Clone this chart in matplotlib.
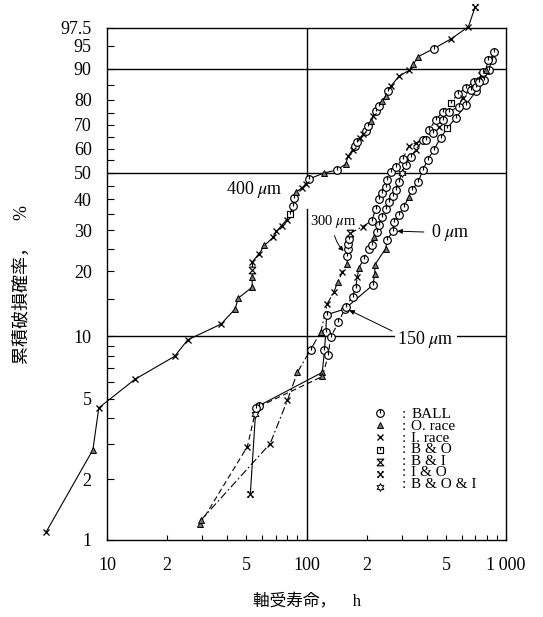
"""
Weibull 確率紙: 軸受寿命と累積破損確率
"""

import numpy as np
import matplotlib
matplotlib.use("Agg")
import matplotlib.pyplot as plt
from matplotlib.path import Path
from matplotlib.ticker import FixedLocator, FixedFormatter, NullFormatter

# ---- data (life h, cumulative failure %, failure mode code per point) ----
# codes: o=BALL, t=O.race, x=I.race, s=B&O, h=B&I, k=I&O, *=B&O&I
s400_h = [4.97, 8.5, 9.1, 13.8, 21.8, 25.4, 37.3, 43.8, 45.6, 53.4,
          53.4, 53.6, 53.6, 57.9, 61.5, 68, 70.7, 75, 79.6, 82.9,
          85.6, 87, 89, 95.3, 99.2, 103, 122, 142, 157, 162,
          170, 175, 180, 186, 192, 198, 204, 210, 216, 222,
          230, 238, 249, 256, 264, 291, 328, 342, 363, 434,
          530, 647, 701]
s400_F = [1.1, 2.8, 4.5, 6.2, 8.0, 9.6, 11.4, 13.4, 15.1, 16.9,
          18.8, 20.2, 22.0, 23.9, 25.9, 28.0, 29.7, 31.4, 33.2, 35.1,
          37.7, 40.5, 42.7, 44.2, 45.7, 47.5, 49.9, 51.1, 53.5, 56.9,
          59.5, 61.0, 62.7, 64.5, 66.0, 67.5, 69.4, 71.5, 73.5, 75.5,
          77.5, 79.5, 81.2, 83.0, 84.7, 87.9, 89.6, 91.1, 92.9, 94.5,
          96.1, 97.6, 99.1]
s400_m = "xtxxxxxttt" "thxxtxxxxs" "ootxxototx" "xooxxootxo" "ottoxxxtto" "xxk"

s0_h = [52.3, 55.5, 57.5, 120, 123, 125, 126, 155, 215, 220,
        220, 249, 254, 270, 274, 290, 307, 325, 338, 362,
        383, 405, 434, 470, 508, 560, 630, 706, 774, 819,
        850, 870]
s0_F = [1.7, 4.2, 4.6, 6.7, 8.6, 10.5, 12.6, 13.4, 17.3, 19.4,
        21.3, 25.1, 27.3, 29.8, 32.6, 34.7, 37.3, 40.7, 43.5, 46.2,
        51.2, 55.3, 59.4, 64.6, 68.7, 72.9, 78.1, 83.0, 86.8, 89.7,
        92.1, 93.9]
s0_m = "k*otooooot" "ttoooootoo" "oooosooooo" "oo"

s150_h = [29.3, 50.5, 56, 120, 128.6, 132, 144.6, 157, 170, 176,
          180, 183, 193, 205, 212, 217, 225, 230, 240, 249,
          258, 270, 280, 290, 300, 314, 333, 353, 383, 411,
          445, 482, 529, 575, 630, 690, 748]
s150_F = [1.2, 2.9, 4.5, 6.4, 8.1, 9.9, 11.6, 13.7, 15.3, 16.8,
          18.9, 20.7, 22.5, 24.9, 26.0, 28.0, 29.5, 31.7, 34.1, 36.5,
          38.9, 41.0, 43.5, 46.5, 50.0, 53.3, 56.6, 59.4, 63.7, 67.9,
          72.1, 75.4, 78.9, 82.1, 84.2, 86.2, 88.3]
s150_m = "txotoooooo" "xtoootoooo" "oooo*ooxoo" "oosooox"

s300_h = [29.5, 65.7, 80.2, 90, 104.7, 118, 127, 137, 143, 151,
          160, 160, 161, 162, 163, 166, 191, 212, 222, 232,
          240, 249, 254, 264, 280, 303, 325, 353, 396, 429,
          460, 482, 518, 578, 605, 666, 706, 730, 765, 794,
          810]
s300_F = [1.25, 3.0, 4.9, 6.7, 8.6, 10.5, 14.2, 16.0, 17.8, 19.7,
          21.5, 23.4, 24.9, 26.3, 27.6, 29.2, 31.1, 32.8, 36.5, 39.9,
          42.4, 44.5, 47.3, 50.1, 52.2, 55.6, 60.9, 62.4, 63.7, 66.6,
          69.1, 72.1, 75.4, 77.3, 80.7, 83.6, 84.6, 86.2, 89.0, 89.7,
          92.1]
s300_m = "txxtotxxtx" "toooohxooo" "ooooooxxoo" "xoooxoooot" "o"

legend_codes = ["o", "t", "x", "s", "h", "k", "*"]
legend_labels = ["BALL", "O. race", "I. race", "B & O", "B & I", "I & O", "B & O & I"]

y_major = [1, 2, 5, 10, 20, 30, 40, 50, 60, 70, 80, 90, 95, 97.5]
y_major_labels = ["1", "2", "5", "10", "20", "30", "40", "50", "60", "70", "80", "90", "95", "97.5"]
y_minor = [3, 4, 6, 7, 8, 9, 15, 25, 35, 45, 55, 65, 75, 85]
x_major = [10, 20, 50, 100, 200, 500, 1000]
x_major_labels = ["10", "2", "5", "100", "2", "5", "1\u2009000"]
x_minor = [30, 40, 60, 70, 80, 90, 300, 400, 600, 700, 800, 900]
ref_F = [10, 50, 90]
ref_h = 100

# ---- style ----
plt.rcParams['font.family'] = ['Liberation Serif', 'Noto Sans CJK JP', 'DejaVu Serif']
plt.rcParams['mathtext.fontset'] = 'stix'


def weib(p):
    p = np.clip(np.asarray(p, dtype=float), 1e-4, 99.9999) / 100.0
    return np.log(-np.log(1.0 - p))


def weib_inv(y):
    return 100.0 * (1.0 - np.exp(-np.exp(y)))


# custom markers
MV, LT, CP = Path.MOVETO, Path.LINETO, Path.CLOSEPOLY
BALL = Path.make_compound_path(Path.unit_circle(), Path([(0, 0), (0, 1)], [MV, LT]))
BO = Path([(-1, -1), (1, -1), (1, 1), (-1, 1), (-1, -1), (0, 1), (0, 0.1)],
          [MV, LT, LT, LT, CP, MV, LT])
BI = Path([(-1, 1), (1, 1), (-1, -1), (1, -1), (-1, 1)], [MV, LT, LT, LT, CP])
IO = Path([(-0.9, -1), (0.9, 1), (-0.9, 1), (0.9, -1),
           (-1.3, 1), (-0.5, 1), (0.5, 1), (1.3, 1),
           (-1.3, -1), (-0.5, -1), (0.5, -1), (1.3, -1)],
          [MV, LT, MV, LT, MV, LT, MV, LT, MV, LT, MV, LT])

mstyle = {
    'o': dict(marker=BALL, ms=5.5, mfc='white', mec='k', mew=0.85),
    't': dict(marker='^', ms=5.0, mfc='0.45', mec='k', mew=0.7),
    'x': dict(marker='x', ms=4.0, mfc='none', mec='k', mew=0.95),
    's': dict(marker=BO, ms=4.8, mfc='white', mec='k', mew=0.85),
    'h': dict(marker=BI, ms=4.8, mfc='white', mec='k', mew=0.85),
    'k': dict(marker=IO, ms=5.0, mfc='none', mec='k', mew=0.9),
    '*': dict(marker=(6, 1, 0), ms=5.8, mfc='white', mec='k', mew=0.7),
}

fig = plt.figure(figsize=(5.43, 6.17), dpi=100)
ax = fig.add_axes([0.197, 0.125, 0.735, 0.830])
ax.set_xscale('log')
ax.set_yscale('function', functions=(weib, weib_inv))
ax.set_xlim(10, 1000)
ax.set_ylim(1, 97.5)

# reference lines
for fv in ref_F:
    ax.axhline(fv, color='k', lw=1.0, zorder=1)
lo, hi = weib(1), weib(97.5)
frac = lambda v: float((weib(v) - lo) / (hi - lo))
ax.axvline(ref_h, ymin=0, ymax=frac(36.5), color='k', lw=1.0, zorder=1)
ax.axvline(ref_h, ymin=frac(48), ymax=1, color='k', lw=1.0, zorder=1)

series = [
    (s400_h, s400_F, s400_m, '-'),
    (s0_h, s0_F, s0_m, '-'),
    (s150_h, s150_F, s150_m, (0, (5, 3))),
    (s300_h, s300_F, s300_m, (0, (7, 2.5, 1.5, 2.5))),
]
for h, F, m, ls in series:
    h = np.array(h)
    F = np.array(F)
    codes = np.array(list(m))
    ax.plot(h, F, color='k', lw=0.8, ls=ls, zorder=2, clip_on=False)
    for c, st in mstyle.items():
        sel = codes == c
        if sel.any():
            ax.plot(h[sel], F[sel], ls='none', zorder=3, clip_on=False, **st)

# labels on curves
ax.text(55, 43.5, r'400 $\mu$m', fontsize=13, ha='center', va='center', zorder=4)
ax.annotate(r'300 $\mu$m', xy=(159, 23.8), xytext=(136, 32.6), fontsize=10.5,
            ha='center', va='center', zorder=4,
            arrowprops=dict(arrowstyle='-|>', color='k', lw=0.7, mutation_scale=7,
                            connectionstyle='arc3,rad=0.25', shrinkA=2, shrinkB=3))
ax.annotate(r'0 $\mu$m', xy=(272, 29.8), xytext=(420, 29.3), fontsize=13,
            ha='left', va='center', zorder=4,
            bbox=dict(fc='white', ec='none', pad=1),
            arrowprops=dict(arrowstyle='-|>', color='k', lw=0.7, mutation_scale=7,
                            shrinkA=4, shrinkB=3))
ax.annotate(r'150 $\mu$m', xy=(157, 13.5), xytext=(285, 9.6), fontsize=13,
            ha='left', va='center', zorder=4,
            bbox=dict(fc='white', ec='none', pad=2),
            arrowprops=dict(arrowstyle='-|>', color='k', lw=0.7, mutation_scale=7,
                            relpos=(0, 0.8), shrinkA=2, shrinkB=3))

# legend drawn by hand (marker : label), text as one block per column
row0, step = 0.248, 0.024
n = len(legend_codes)
for i, c in enumerate(legend_codes):
    ax.plot([0.684], [row0 - i * step], transform=ax.transAxes, ls='none',
            zorder=4, **mstyle[c])
ymid = row0 - (n - 1) / 2 * step
ax.text(0.745, ymid, "\n".join([':'] * n), transform=ax.transAxes, fontsize=11,
        ha='center', va='center', linespacing=0.86)
ax.text(0.762, ymid, "\n".join(legend_labels), transform=ax.transAxes, fontsize=11,
        ha='left', va='center', linespacing=0.86)

# ticks
ax.yaxis.set_major_locator(FixedLocator(y_major))
ax.yaxis.set_major_formatter(FixedFormatter(y_major_labels))
ax.yaxis.set_minor_locator(FixedLocator(y_minor))
ax.yaxis.set_minor_formatter(NullFormatter())
ax.xaxis.set_major_locator(FixedLocator(x_major))
ax.xaxis.set_major_formatter(FixedFormatter(x_major_labels))
ax.xaxis.set_minor_locator(FixedLocator(x_minor))
ax.xaxis.set_minor_formatter(NullFormatter())
ax.tick_params(axis='both', which='both', direction='in', top=False, right=False)
ax.tick_params(axis='y', which='both', length=5, width=0.8, pad=11, labelsize=13)
ax.tick_params(axis='x', which='both', length=3.5, width=0.8, pad=12, labelsize=13)
for sp in ax.spines.values():
    sp.set_linewidth(1.0)

fig.text(22 / 543, 1 - 284 / 617, '累積破損確率，\u3000%', rotation=90,
         ha='center', va='center', fontsize=13)
fig.text(307 / 543, 1 - 602 / 617, '軸受寿命，\u3000h', ha='center', va='center', fontsize=12)

fig.savefig('out.png', dpi=100)
